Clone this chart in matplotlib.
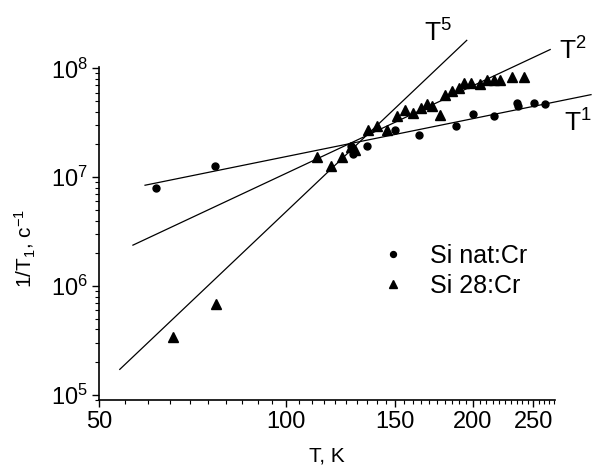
import matplotlib.pyplot as plt
import numpy as np
from matplotlib.ticker import FixedLocator, LogLocator, NullFormatter, FixedFormatter

plt.rcParams['font.family'] = ['Liberation Sans', 'DejaVu Sans']
plt.rcParams['mathtext.fontset'] = 'custom'
plt.rcParams['mathtext.rm'] = 'Liberation Sans'
plt.rcParams['mathtext.it'] = 'Liberation Sans:italic'
plt.rcParams['mathtext.bf'] = 'Liberation Sans:bold'

# Si nat:Cr (circles)
T_nat = [61.8, 76.9, 127.0, 128.3, 135.1, 149.6, 163.7, 187.6, 200.3, 215.8,
         235.0, 235.9, 250.9, 261.3]
R_nat = [8.04e6, 1.27e7, 1.94e7, 1.65e7, 1.94e7, 2.70e7, 2.47e7, 2.94e7, 3.84e7, 3.63e7,
         4.84e7, 4.48e7, 4.81e7, 4.74e7]

# Si 28:Cr (triangles)
T_28 = [65.9, 77.1, 112.2, 118.2, 123.1, 127.0, 128.9, 135.4, 140.2, 145.2,
        151.1, 155.4, 159.9, 164.7, 168.9, 172.0, 176.7, 180.2, 184.8, 189.8,
        193.4, 198.8, 205.3, 211.0, 215.8, 221.1, 230.9, 241.7]
R_28 = [3.38e5, 6.84e5, 1.53e7, 1.27e7, 1.53e7, 1.91e7, 1.77e7, 2.74e7, 2.94e7, 2.74e7,
        3.63e7, 4.12e7, 3.89e7, 4.36e7, 4.74e7, 4.48e7, 3.71e7, 5.65e7, 6.19e7, 6.65e7,
        7.33e7, 7.33e7, 7.25e7, 7.76e7, 7.76e7, 7.76e7, 8.32e7, 8.32e7]

# guide lines (end points)
T5_x = [54.0, 195.4]
T5_y = [1.72e5, 1.81e8]
T2_x = [56.7, 266.2]
T2_y = [2.38e6, 1.49e8]
T1_x = [59.3, 309.7]
T1_y = [8.45e6, 5.74e7]

x_major = [50, 100, 150, 200, 250]
x_labels = ['50', '100', '150', '200', '250']

W, H = 592, 466
fig = plt.figure(figsize=(W / 100, H / 100), dpi=100)
ax = fig.add_axes([99 / W, 1 - 400 / H, 456 / W, 333 / H])

ax.set_xscale('log')
ax.set_yscale('log')

for xs, ys in [(T5_x, T5_y), (T2_x, T2_y), (T1_x, T1_y)]:
    ax.plot(xs, ys, color='black', lw=0.9, clip_on=False, zorder=2)

ax.plot(T_nat, R_nat, 'o', color='black', ms=5, ls='none', label='Si nat:Cr', zorder=3)
ax.plot(T_28, R_28, '^', color='black', ms=6.5, ls='none', label='Si 28:Cr', zorder=3)

ax.set_xlim(50, 271)
ax.set_ylim(9.0e4, 1.03e8)

ax.xaxis.set_major_locator(FixedLocator(x_major))
ax.xaxis.set_major_formatter(FixedFormatter(x_labels))
ax.xaxis.set_minor_locator(FixedLocator([v for v in range(55, 275, 5) if v not in x_major]))
ax.xaxis.set_minor_formatter(NullFormatter())
ax.yaxis.set_major_locator(LogLocator(base=10, numticks=10))
ax.yaxis.set_minor_locator(LogLocator(base=10, subs=np.arange(2, 10), numticks=10))
ax.yaxis.set_minor_formatter(NullFormatter())

for s in ['top', 'right']:
    ax.spines[s].set_visible(False)
for s in ['left', 'bottom']:
    ax.spines[s].set_linewidth(1.2)

ax.tick_params(which='major', direction='out', length=5, width=1, labelsize=17, pad=3)
ax.tick_params(which='minor', direction='out', length=3, width=0.8)

ax.set_xlabel('T, K', fontsize=15, labelpad=10)
fig.text(25 / W, 1 - 248 / H, r'1/T$_1$, с$^{-1}$', rotation=90, fontsize=15,
         ha='center', va='center')

# slope labels
fig.text(424 / W, 1 - 41.7 / H, r'T$^5$', fontsize=19, ha='left', va='baseline')
fig.text(559 / W, 1 - 60 / H, r'T$^2$', fontsize=19, ha='left', va='baseline')
fig.text(564 / W, 1 - 131.5 / H, r'T$^1$', fontsize=19, ha='left', va='baseline')

ax.legend(loc='center left', bbox_to_anchor=(380 / W, 1 - 271 / H),
          bbox_transform=fig.transFigure, frameon=False, fontsize=18,
          handlelength=1.0, handletextpad=1.0, labelspacing=0.25, markerscale=0.85,
          borderpad=0, borderaxespad=0)

plt.savefig('out.png', dpi=100)
plt.close()
